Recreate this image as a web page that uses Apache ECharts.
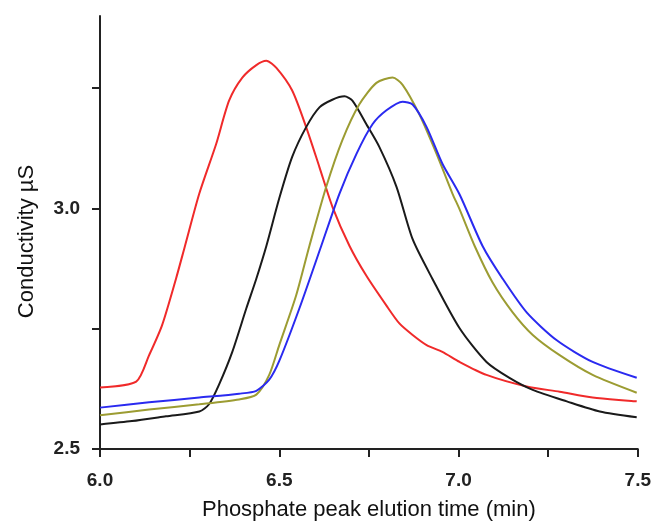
<!DOCTYPE html>
<html>
<head>
<meta charset="utf-8">
<script src="https://cdn.jsdelivr.net/npm/echarts@6/dist/echarts.min.js"></script>
<style>
  html, body { margin: 0; padding: 0; background: #fff; }
  #chart { width: 654px; height: 526px; }
</style>
</head>
<body>
<div id="chart"></div>
<script>
// values (time in min, conductivity in uS)
var redTime = [6.000, 6.101, 6.137, 6.173, 6.212, 6.237, 6.277, 6.324, 6.360, 6.397, 6.436, 6.464, 6.492, 6.536, 6.575, 6.612, 6.648, 6.696, 6.743, 6.799, 6.835, 6.872, 6.911, 6.955, 7.003, 7.078, 7.190, 7.282, 7.374, 7.497];
var redCond = [2.628, 2.640, 2.695, 2.757, 2.854, 2.922, 3.031, 3.134, 3.224, 3.272, 3.298, 3.307, 3.292, 3.245, 3.169, 3.086, 3.004, 2.922, 2.860, 2.798, 2.761, 2.737, 2.716, 2.702, 2.681, 2.654, 2.630, 2.619, 2.607, 2.599];

var blackTime = [6.000, 6.089, 6.184, 6.277, 6.304, 6.332, 6.369, 6.408, 6.436, 6.464, 6.500, 6.536, 6.575, 6.612, 6.648, 6.682, 6.704, 6.743, 6.779, 6.827, 6.872, 6.927, 7.003, 7.078, 7.142, 7.207, 7.302, 7.394, 7.497];
var blackCond = [2.551, 2.558, 2.568, 2.578, 2.593, 2.634, 2.702, 2.792, 2.854, 2.922, 3.021, 3.107, 3.169, 3.210, 3.226, 3.233, 3.224, 3.175, 3.128, 3.045, 2.936, 2.854, 2.751, 2.681, 2.648, 2.623, 2.599, 2.578, 2.566];

var oliveTime = [6.000, 6.137, 6.277, 6.388, 6.436, 6.472, 6.500, 6.547, 6.584, 6.631, 6.676, 6.723, 6.771, 6.816, 6.844, 6.891, 6.939, 6.983, 7.003, 7.045, 7.095, 7.151, 7.207, 7.282, 7.374, 7.497];
var oliveCond = [2.570, 2.582, 2.593, 2.603, 2.613, 2.654, 2.716, 2.819, 2.922, 3.045, 3.142, 3.216, 3.261, 3.272, 3.257, 3.195, 3.113, 3.031, 2.998, 2.922, 2.846, 2.784, 2.737, 2.695, 2.654, 2.617];

var blueTime = [6.000, 6.137, 6.277, 6.388, 6.436, 6.472, 6.500, 6.556, 6.617, 6.668, 6.715, 6.760, 6.799, 6.844, 6.872, 6.911, 6.955, 7.003, 7.067, 7.123, 7.190, 7.274, 7.374, 7.497];
var blueCond = [2.586, 2.597, 2.607, 2.615, 2.621, 2.644, 2.683, 2.792, 2.922, 3.031, 3.113, 3.175, 3.204, 3.222, 3.216, 3.169, 3.093, 3.029, 2.922, 2.854, 2.784, 2.726, 2.681, 2.648];

var xTicks = [6.0, 6.25, 6.5, 6.75, 7.0, 7.25, 7.5];
var xLabels = [6.0, 6.5, 7.0, 7.5];
var yTicks = [2.5, 2.75, 3.0, 3.25];
var yLabels = [2.5, 3.0];

function pairs(xs, ys) {
    var out = [];
    for (var i = 0; i < xs.length; i++)
        out.push([xs[i], ys[i]]);
    return out;
}

function lineSeries(name, xs, ys, color) {
    return {
        name: name,
        type: 'line',
        data: pairs(xs, ys),
        showSymbol: false,
        symbol: 'none',
        smooth: 0.25,
        lineStyle: { color: color, width: 2 },
        animation: false
    };
}

var font = 'Liberation Sans, Arial, sans-serif';
var axisLine = { show: true, onZero: false, lineStyle: { color: '#222', width: 2 } };

var option = {
    backgroundColor: '#fff',
    grid: { left: 100, right: 16, top: 16, bottom: 71, containLabel: false },
    xAxis: {
        type: 'value',
        min: 6.0,
        max: 7.5,
        name: 'Phosphate peak elution time (min)',
        nameLocation: 'middle',
        nameGap: 50,
        nameTextStyle: { fontFamily: font, fontSize: 22, color: '#111' },
        axisLine: axisLine,
        axisTick: { show: true, length: 8, inside: false, customValues: xTicks, lineStyle: { color: '#222', width: 2 } },
        axisLabel: {
            customValues: xLabels,
            margin: 22,
            fontFamily: font, fontSize: 19, fontWeight: 'bold', color: '#222',
            formatter: function (v) { return v.toFixed(1); }
        },
        splitLine: { show: false }
    },
    yAxis: {
        type: 'value',
        min: 2.5,
        max: 3.4,
        name: 'Conductivity µS',
        nameLocation: 'middle',
        nameGap: 62,
        nameRotate: 90,
        nameTextStyle: { fontFamily: font, fontSize: 22, color: '#111', padding: [0, 18, 0, 0] },
        axisLine: axisLine,
        axisTick: { show: true, length: 8, inside: false, customValues: yTicks, lineStyle: { color: '#222', width: 2 } },
        axisLabel: {
            customValues: yLabels,
            margin: 20,
            fontFamily: font, fontSize: 19, fontWeight: 'bold', color: '#222',
            formatter: function (v) { return v.toFixed(1); }
        },
        splitLine: { show: false }
    },
    series: [
        lineSeries('red', redTime, redCond, '#f02a2a'),
        lineSeries('black', blackTime, blackCond, '#1a1a1a'),
        lineSeries('olive', oliveTime, oliveCond, '#9c9c32'),
        lineSeries('blue', blueTime, blueCond, '#2a2af0')
    ]
};

var chart = echarts.init(document.getElementById('chart'), null, { renderer: 'canvas' });
chart.setOption(option);
</script>
</body>
</html>
